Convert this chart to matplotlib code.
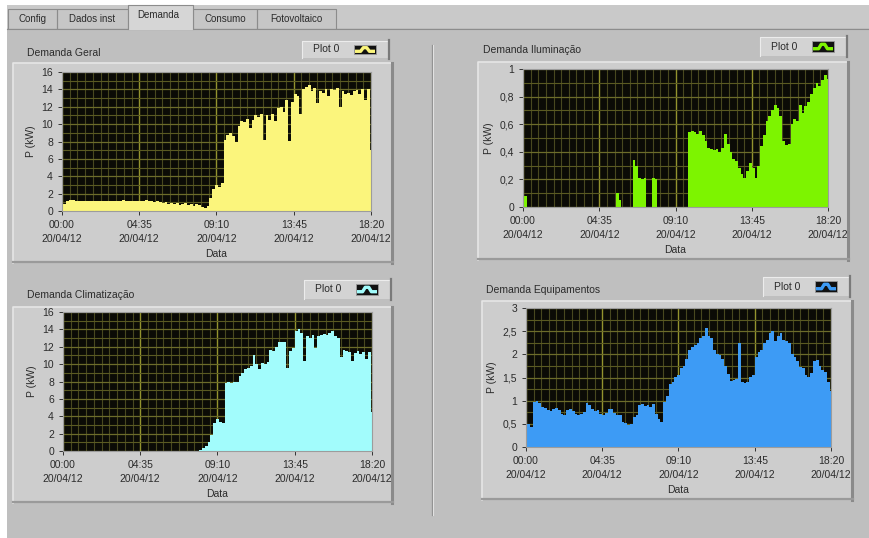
import numpy as np
import matplotlib.pyplot as plt
from matplotlib.patches import Rectangle
from matplotlib.lines import Line2D
from matplotlib.ticker import MultipleLocator

plt.rcParams['font.family'] = ['Liberation Sans', 'DejaVu Sans']

# sample times in minutes since 00:00 (10 min steps)
minutes = list(range(0, 1101, 10))
tick_pos = [0, 275, 550, 825, 1100]
tick_labels = ['00:00\n20/04/12', '04:35\n20/04/12', '09:10\n20/04/12',
               '13:45\n20/04/12', '18:20\n20/04/12']

geral = [0.9, 0.8, 1.1, 1.3, 1.3, 1.2, 1.2, 1.1, 1.1, 1.2,
         1.1, 1.1, 1.2, 1.2, 1.1, 1.1, 1.2, 1.1, 1.1, 1.2,
         1.1, 1.2, 1.3, 1.2, 1.2, 1.1, 1.2, 1.1, 1.2, 1.2,
         1.3, 1.2, 1.1, 1.0, 1.1, 1.0, 0.9, 1.0, 0.8, 0.9,
         0.8, 0.9, 0.7, 0.8, 0.9, 0.7, 0.8, 0.6, 0.8, 0.7,
         0.5, 0.3, 0.6, 1.5,
         2.5, 3.0, 2.8, 3.2, 8.2, 8.8, 9.0, 8.6, 8.0, 9.8,
         10.4, 10.3, 10.6, 9.6, 10.5, 11.0, 10.8, 11.2, 8.2, 11.0,
         10.5, 11.2, 10.4, 11.8, 12.0, 11.4, 12.8, 8.1, 12.5, 13.5,
         13.2, 11.2, 14.0, 14.3, 14.5, 13.8, 14.2, 12.4, 13.8, 13.6,
         14.0, 13.2, 14.1, 13.9, 14.2, 12.0, 13.8, 13.5, 13.6, 13.4,
         13.8, 13.9, 13.5, 14.0, 12.8, 14.1, 7.0]

iluminacao = [0.21, 0.08,
              0, 0, 0, 0, 0, 0, 0, 0, 0, 0, 0, 0, 0, 0, 0, 0,
              0, 0, 0, 0, 0, 0, 0, 0, 0, 0, 0, 0, 0, 0, 0, 0,
              0.1, 0.05, 0, 0, 0, 0,
              0.34, 0.3, 0.21, 0.2, 0.21, 0, 0, 0.21, 0.2,
              0, 0, 0, 0, 0, 0, 0, 0, 0, 0, 0,
              0.54, 0.55, 0.54, 0.53, 0.55, 0.52, 0.48, 0.43, 0.42, 0.41,
              0.42, 0.40, 0.43, 0.53, 0.46, 0.40, 0.35, 0.33, 0.28, 0.24,
              0.21, 0.26, 0.32, 0.28, 0.21, 0.30, 0.44, 0.52, 0.62, 0.66,
              0.70, 0.74, 0.72, 0.66, 0.48, 0.45, 0.46, 0.60, 0.64, 0.62,
              0.74, 0.68, 0.73, 0.76, 0.82, 0.86, 0.90, 0.88, 0.92, 0.96,
              0.93]

climatizacao = [0, 0, 0, 0, 0, 0, 0, 0, 0, 0, 0, 0, 0, 0, 0, 0, 0,
                0, 0, 0, 0, 0, 0, 0, 0, 0, 0, 0, 0, 0, 0, 0, 0,
                0, 0, 0, 0, 0, 0, 0, 0, 0, 0, 0, 0, 0, 0, 0, 0,
                0.1, 0.3, 0.6, 1.0, 1.8, 3.2, 3.7, 3.3, 3.2, 7.8,
                7.9, 7.8, 8.0, 7.9, 8.6, 9.0, 9.4, 9.6, 9.8, 11.0,
                10.0, 9.4, 10.1, 10.0, 10.3, 11.6, 11.5, 12.0, 12.5, 12.6,
                12.5, 9.6, 11.5, 11.8, 13.8, 14.0, 13.6, 10.4, 13.2, 13.0,
                13.3, 11.8, 13.2, 13.4, 13.5, 13.3, 13.6, 13.8, 13.2, 13.0,
                10.8, 11.6, 11.5, 11.4, 10.4, 11.3, 11.5, 11.2, 11.4, 10.6,
                11.4, 4.5]

equipamentos = [0.55, 0.5, 0.43, 0.98, 1.0, 0.95, 0.87, 0.85, 0.8, 0.78,
                0.83, 0.85, 0.8, 0.72, 0.7, 0.8, 0.82, 0.78, 0.72, 0.7,
                0.72, 0.75, 0.94, 0.9, 0.82, 0.78, 0.8, 0.72, 0.7, 0.74,
                0.83, 0.82, 0.74, 0.7, 0.68, 0.54, 0.52, 0.48, 0.5, 0.65,
                0.7, 0.9, 0.92, 0.88, 0.9, 0.87, 0.92, 0.72, 0.6, 0.54,
                0.98, 1.1, 1.35, 1.4, 1.52, 1.55, 1.7, 1.75, 1.9, 2.1,
                2.15, 2.2, 2.25, 2.35, 2.4, 2.57, 2.4, 2.35, 2.1, 2.0,
                1.98, 1.9, 1.75, 1.58, 1.42, 1.45, 1.47, 2.24, 1.4, 1.38,
                1.4, 1.5, 1.55, 1.95, 2.05, 2.1, 2.25, 2.3, 2.45, 2.5,
                2.28, 2.4, 2.46, 2.3, 2.28, 2.25, 2.0, 1.95, 1.85, 1.73,
                1.7, 1.55, 1.5, 1.6, 1.85, 1.88, 1.75, 1.66, 1.62, 1.4,
                1.2]

tabs = ['Config', 'Dados inst', 'Demanda', 'Consumo', 'Fotovoltaico']
tab_edges = [8, 57, 128, 193, 257, 336]

W, H = 870, 538
fig = plt.figure(figsize=(W / 100, H / 100), dpi=100)
fig.patch.set_facecolor('white')


def fx(x):
    return x / W


def fy(y):
    return 1 - y / H


def rect(x0, y0, x1, y1, **kw):
    r = Rectangle((fx(x0), fy(y1)), (x1 - x0) / W, (y1 - y0) / H,
                  transform=fig.transFigure, **kw)
    fig.patches.append(r)
    return r


def line(xs, ys, **kw):
    fig.lines.append(Line2D([fx(x) for x in xs], [fy(y) for y in ys],
                            transform=fig.transFigure, **kw))


TXT = '#2b2b2b'
FS = 7.5

# tab control background
rect(7, 5, 870, 538, facecolor='#bfbfbf', edgecolor='none')
rect(7, 5, 870, 28, facecolor='#c9c9c9', edgecolor='none')
line([7, 870], [28.5, 28.5], color='#8c8c8c', lw=0.8)
for i, name in enumerate(tabs):
    x0, x1 = tab_edges[i], tab_edges[i + 1]
    if name == 'Demanda':
        rect(x0, 5, x1, 29.5, facecolor='#d6d6d6', edgecolor='none', zorder=2)
        line([x0, x0, x1, x1], [29, 5, 5, 29], color='#8c8c8c', lw=0.8, zorder=3)
        fig.text(fx((x0 + x1) / 2 - 2), fy(15), name, ha='center', va='center',
                 fontsize=7, color=TXT, zorder=4)
    else:
        rect(x0, 9, x1, 28, facecolor='#c6c6c6', edgecolor='none')
        line([x0, x0, x1, x1], [28, 9, 9, 28], color='#8c8c8c', lw=0.8)
        fig.text(fx((x0 + x1) / 2), fy(18.5), name, ha='center', va='center',
                 fontsize=7, color=TXT)

# vertical separator
line([432, 432], [45, 515], color='#8f8f8f', lw=0.9)
line([433.2, 433.2], [45, 515], color='#e2e2e2', lw=0.8)

panels = [
    dict(title='Demanda Geral', data=geral, color='#fbf57c', ymax=16, ystep=2,
         yminor=1, labels=['0', '2', '4', '6', '8', '10', '12', '14', '16'],
         ax=(62, 72, 371, 211), frame=(13, 63, 393, 263), tpos=(27, 53),
         leg=(302, 41, 388, 58)),
    dict(title='Demanda Iluminação', data=iluminacao, color='#7df400', ymax=1,
         ystep=0.2, yminor=0.1, labels=['0', '0,2', '0,4', '0,6', '0,8', '1'],
         ax=(523, 69, 828, 207), frame=(478, 62, 849, 260), tpos=(483, 50),
         leg=(760, 37, 846, 56)),
    dict(title='Demanda Climatização', data=climatizacao, color='#a2fcfc', ymax=16,
         ystep=2, yminor=1, labels=['0', '2', '4', '6', '8', '10', '12', '14', '16'],
         ax=(63, 312, 372, 451), frame=(13, 307, 393, 503), tpos=(27, 295),
         leg=(304, 280, 390, 299)),
    dict(title='Demanda Equipamentos', data=equipamentos, color='#3d9bf5', ymax=3,
         ystep=0.5, yminor=0.25, labels=['0', '0,5', '1', '1,5', '2', '2,5', '3'],
         ax=(526, 308, 831, 447), frame=(482, 301, 853, 500), tpos=(486, 290),
         leg=(763, 277, 849, 296)),
]

for p in panels:
    fl, ft, fr, fb = p['frame']
    # raised frame with shadow
    rect(fl, ft, fr, fb, facecolor='#cdcdcd', edgecolor='none')
    line([fl, fl, fr], [fb, ft, ft], color='#e6e6e6', lw=1.2)
    line([fr - 1, fr - 1], [ft, fb], color='#8a8a8a', lw=2.2)
    line([fl, fr], [fb - 0.8, fb - 0.8], color='#9a9a9a', lw=1.6)

    fig.text(fx(p['tpos'][0]), fy(p['tpos'][1]), p['title'], ha='left',
             va='center', fontsize=FS, color=TXT)

    # legend "Plot 0"
    ll, lt, lr, lb = p['leg']
    rect(ll, lt, lr, lb, facecolor='#d3d3d3', edgecolor='none')
    line([ll, ll, lr], [lb, lt, lt], color='#ececec', lw=0.8)
    line([lr + 1.5, lr + 1.5], [lt - 1, lb + 1], color='#7a7a7a', lw=1.6)
    fig.text(fx(ll + 11), fy((lt + lb) / 2), 'Plot 0', ha='left', va='center',
             fontsize=FS, color=TXT)
    il, ir = lr - 34, lr - 12
    it, ib = lt + 4, lb - 4
    rect(il, it, ir, ib, facecolor='#111111', edgecolor='#9a9a9a', lw=0.6)
    iw, ih = ir - il, ib - it
    line([il + 1, il + iw * 0.3, il + iw * 0.42, il + iw * 0.58, il + iw * 0.7, ir - 1],
         [ib - ih * 0.3, ib - ih * 0.3, it + ih * 0.3, it + ih * 0.3,
          ib - ih * 0.3, ib - ih * 0.3],
         color=p['color'], lw=2.4, solid_capstyle='butt')

    al, at, ar, ab = p['ax']
    ax = fig.add_axes([fx(al), fy(ab), (ar - al) / W, (ab - at) / H])
    ax.set_zorder(5)
    ax.set_facecolor('#0b0b06')
    ax.set_axisbelow(True)
    ax.fill_between(minutes, p['data'], 0, step='mid', color=p['color'], lw=0)
    ax.set_xlim(0, 1100)
    ax.set_ylim(0, p['ymax'])
    ax.set_xticks(tick_pos)
    ax.set_xticklabels(tick_labels)
    for t in ax.get_xticklabels():
        t.set_linespacing(1.55)
    ax.set_yticks(np.arange(0, p['ymax'] + 1e-9, p['ystep']))
    ax.set_yticklabels(p['labels'])
    ax.xaxis.set_minor_locator(MultipleLocator(27.5))
    ax.yaxis.set_minor_locator(MultipleLocator(p['yminor']))
    ax.grid(True, which='major', axis='x', color='#93932e', lw=1.0)
    ax.grid(True, which='major', axis='y', color='#6c6c2a', lw=0.9)
    ax.grid(True, which='minor', axis='x', color='#48481f', lw=0.8)
    ax.grid(True, which='minor', axis='y', color='#5a5a22', lw=0.8)
    ax.tick_params(which='major', direction='out', length=3, width=0.7,
                   color='#333333', labelsize=FS, labelcolor=TXT, pad=3.5)
    ax.tick_params(which='minor', length=0)
    for s in ax.spines.values():
        s.set_color('#9c9c9c')
        s.set_linewidth(0.8)
    ax.set_ylabel('P (kW)', fontsize=FS, color=TXT, labelpad=4)
    ax.set_xlabel('Data', fontsize=FS, color=TXT, labelpad=3)

fig.savefig('out.png', dpi=100)
